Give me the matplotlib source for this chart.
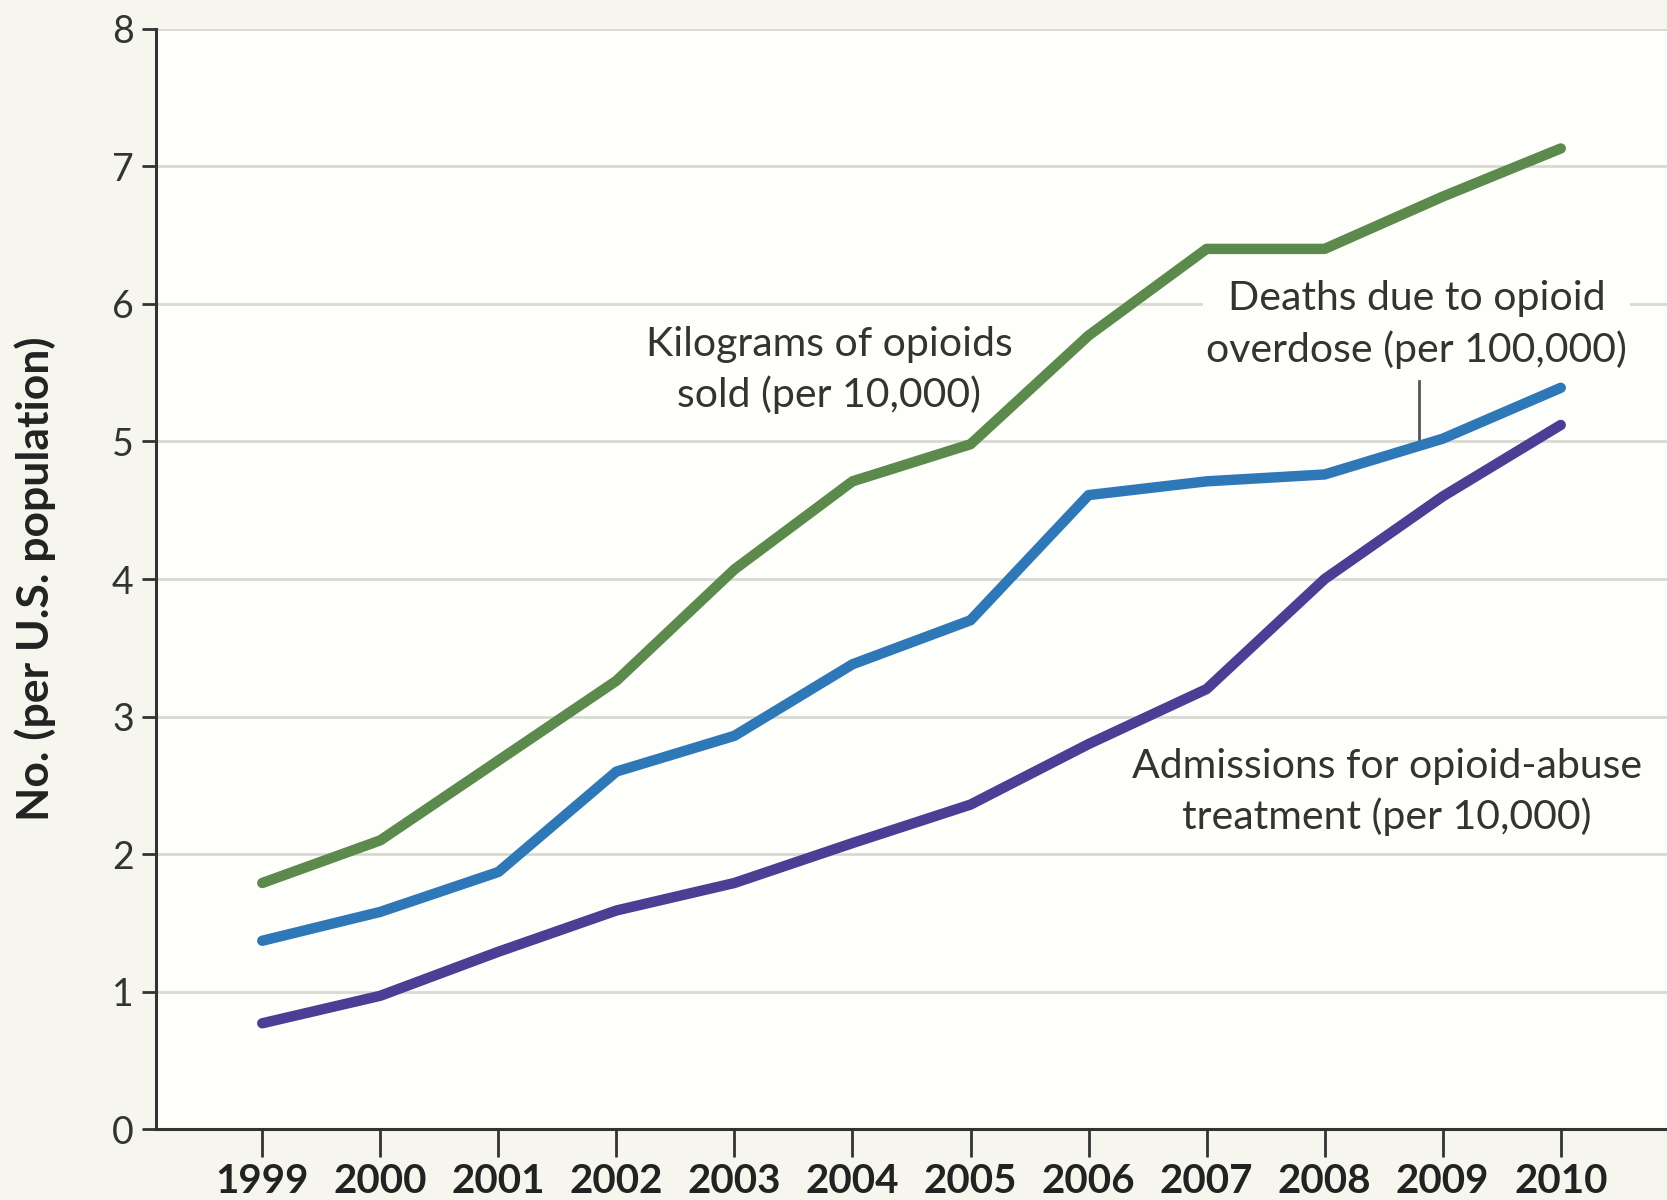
import numpy as np
import matplotlib.pyplot as plt

plt.rcParams['font.family'] = ['Lato', 'DejaVu Sans']

years = [1999, 2000, 2001, 2002, 2003, 2004, 2005, 2006, 2007, 2008, 2009, 2010]
kg_sold = [1.79, 2.10, 2.68, 3.26, 4.07, 4.71, 4.98, 5.77, 6.40, 6.40, 6.78, 7.13]
deaths = [1.37, 1.58, 1.87, 2.60, 2.86, 3.38, 3.70, 4.61, 4.71, 4.76, 5.02, 5.39]
admissions = [0.77, 0.97, 1.29, 1.59, 1.79, 2.08, 2.36, 2.80, 3.20, 4.00, 4.60, 5.12]

green = '#5b8a4c'
blue = '#2f78b8'
purple = '#4a3f94'
txt = '#333333'

fig = plt.figure(figsize=(16.67, 12), dpi=100, facecolor='#f6f6ee')
ax = fig.add_axes([0.0936, 0.059, 0.9064, 0.917])
ax.set_facecolor('#fefefb')

for yv in range(1, 9):
    ax.axhline(yv, color='#d9d9d4', lw=2, zorder=1)

lw = 7.5
ax.plot(years, kg_sold, color=green, lw=lw, solid_capstyle='round', solid_joinstyle='round', zorder=3)
ax.plot(years, deaths, color=blue, lw=lw, solid_capstyle='round', solid_joinstyle='round', zorder=3)
ax.plot(years, admissions, color=purple, lw=lw, solid_capstyle='round', solid_joinstyle='round', zorder=3)

ax.set_xlim(1998.1, 2010.9)
ax.set_ylim(0, 8)
ax.set_xticks(years)
ax.set_xticklabels([str(y) for y in years], fontsize=29, fontweight='bold', color='#222222')
ax.set_yticks(range(0, 9))
ax.set_yticklabels([str(v) for v in range(0, 9)], fontsize=27, color=txt)
ax.tick_params(axis='x', length=20, width=2, color='#333333', pad=4)
ax.tick_params(axis='y', length=10, width=2, color='#333333', pad=6)

for side in ['top', 'right']:
    ax.spines[side].set_visible(False)
for side in ['left', 'bottom']:
    ax.spines[side].set_color('#333333')
    ax.spines[side].set_linewidth(2.2)

ax.set_ylabel('No. (per U.S. population)', fontsize=32, fontweight='bold', color='#222222', labelpad=40)

fs = 29.5
ls = 1.4
bg = dict(facecolor='#fefefb', edgecolor='none', pad=2)
ax.text(2003.8, 5.52, 'Kilograms of opioids\nsold (per 10,000)', ha='center', va='center',
        fontsize=fs, color=txt, linespacing=ls, zorder=4)
ax.text(2008.78, 5.85, 'Deaths due to opioid\noverdose (per 100,000)', ha='center', va='center',
        fontsize=fs, color=txt, linespacing=ls, bbox=bg, zorder=4)
ax.text(2008.53, 2.45, 'Admissions for opioid-abuse\ntreatment (per 10,000)', ha='center', va='center',
        fontsize=fs, color=txt, linespacing=ls, zorder=4)
ax.plot([2008.8, 2008.8], [5.44, 4.99], color='#555555', lw=2, zorder=2)

fig.savefig('out.png', dpi=100, facecolor=fig.get_facecolor())
